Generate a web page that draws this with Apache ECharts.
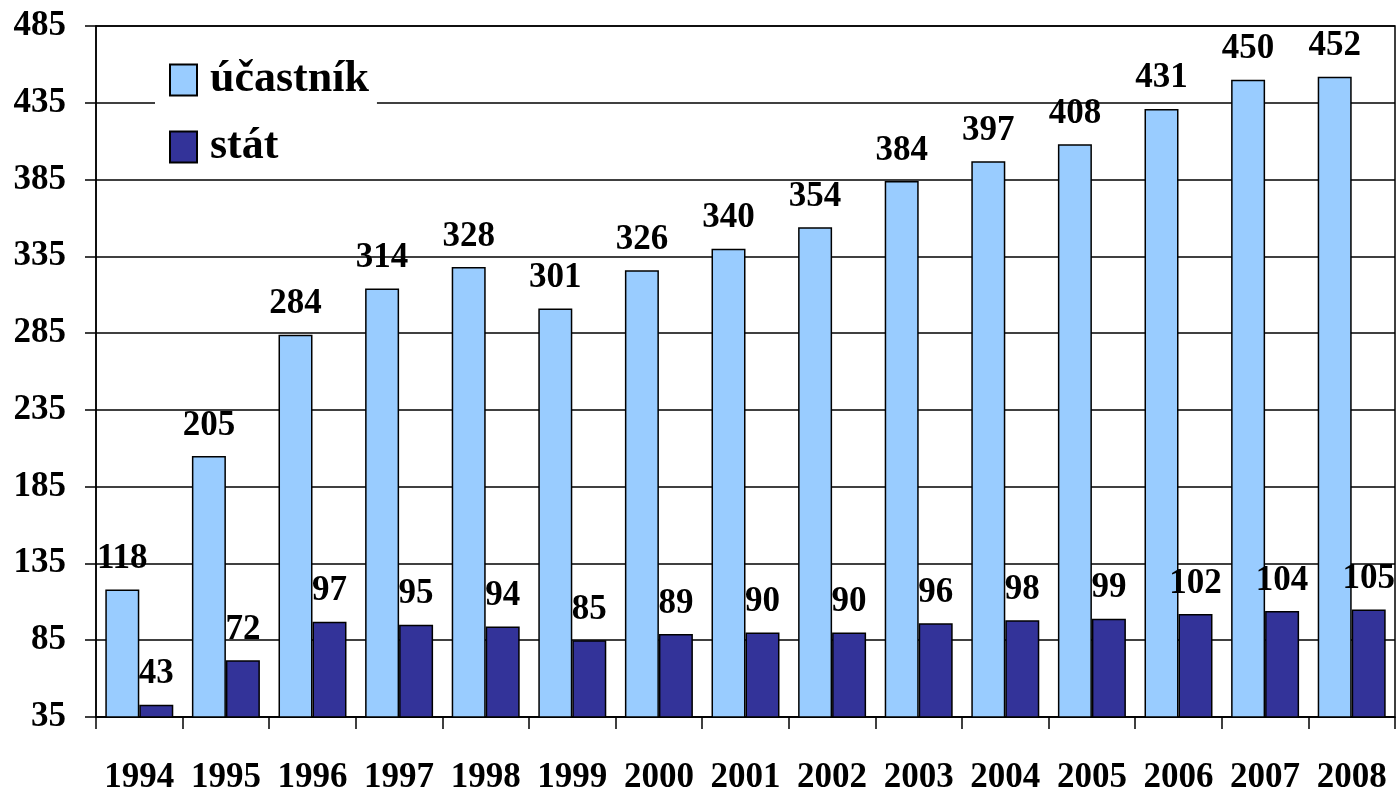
<!DOCTYPE html>
<html>
<head>
<meta charset="utf-8">
<script src="https://cdn.jsdelivr.net/npm/echarts@6/dist/echarts.min.js"></script>
<style>
  html, body { margin: 0; padding: 0; background: #fff; }
  #chart { width: 1398px; height: 795px; }
</style>
</head>
<body>
<div id="chart"></div>
<script>
const years = ['1994', '1995', '1996', '1997', '1998', '1999', '2000', '2001',
  '2002', '2003', '2004', '2005', '2006', '2007', '2008']
const ucastnik = [118, 205, 284, 314, 328, 301, 326, 340, 354, 384, 397, 408, 431, 450, 452]
const stat = [43, 72, 97, 95, 94, 85, 89, 90, 90, 96, 98, 99, 102, 104, 105]

const font = "'Liberation Serif', 'Times New Roman', serif"

const myChart = echarts.init(document.getElementById('chart'))

const labelStyle = {
  show: true,
  position: 'top',
  distance: 13,
  color: '#000',
  fontFamily: font,
  fontWeight: 'bold',
  fontSize: 35
}

const option = {
  animation: false,
  grid: {
    left: 96,
    right: 3,
    top: 26,
    bottom: 77,
    show: true,
    borderColor: '#000',
    borderWidth: 1.5
  },
  legend: {
    orient: 'vertical',
    left: 155,
    top: 48,
    padding: [10, 8, 10, 14],
    backgroundColor: '#fff',
    itemWidth: 27,
    itemHeight: 31,
    itemGap: 23,
    icon: 'rect',
    textStyle: {
      color: '#000',
      fontFamily: font,
      fontWeight: 'bold',
      fontSize: 44,
      padding: [0, 0, 0, 8]
    },
    data: ['účastník', 'stát']
  },
  xAxis: {
    type: 'category',
    data: years,
    axisLine: { lineStyle: { color: '#000', width: 1.5 } },
    axisTick: { show: true, interval: 0, length: 12, lineStyle: { color: '#000', width: 1.5 } },
    axisLabel: {
      interval: 0,
      margin: 43,
      color: '#000',
      fontFamily: font,
      fontWeight: 'bold',
      fontSize: 35
    }
  },
  yAxis: {
    type: 'value',
    min: 35,
    max: 485,
    interval: 50,
    axisLine: { show: true, lineStyle: { color: '#000', width: 1.5 } },
    axisTick: { show: true, length: 11, lineStyle: { color: '#000', width: 1.5 } },
    splitLine: { lineStyle: { color: '#000', width: 1.5 } },
    axisLabel: {
      margin: 30,
      color: '#000',
      fontFamily: font,
      fontWeight: 'bold',
      fontSize: 35
    }
  },
  series: [
    {
      name: 'účastník',
      type: 'bar',
      data: ucastnik,
      barGap: '0%',
      barCategoryGap: '21.5%',
      itemStyle: { color: '#99CCFF', borderColor: '#000', borderWidth: 1.5 },
      label: labelStyle
    },
    {
      name: 'stát',
      type: 'bar',
      data: stat,
      itemStyle: { color: '#333399', borderColor: '#000', borderWidth: 1.5 },
      label: labelStyle
    }
  ]
}

myChart.setOption(option)

window.addEventListener('resize', () => {
  myChart.resize()
})
</script>
</body>
</html>
